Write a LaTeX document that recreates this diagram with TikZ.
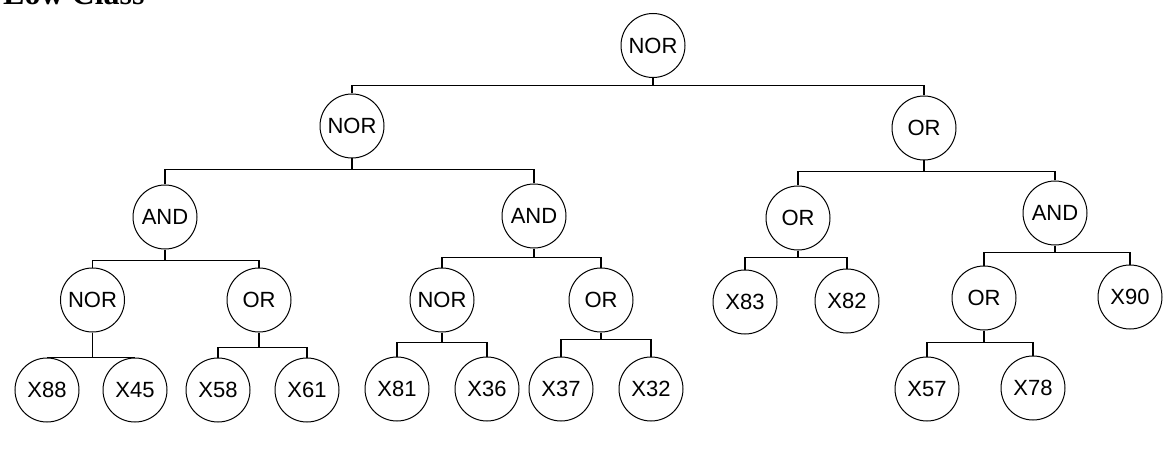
\documentclass[tikz,border=0pt]{standalone}
\usepackage{fontspec}
\setmainfont{Liberation Sans}
\newfontfamily\titlefont{Liberation Serif}
\begin{document}
\begin{tikzpicture}[x=1pt,y=1pt,
  gate/.style={draw, circle, minimum size=64pt, inner sep=0pt, line width=1pt,
    font=\fontsize{22}{26}\selectfont},
  wire/.style={line width=1.3pt}]
\useasboundingbox (0,0) rectangle (1168,448);
\clip (0,0) rectangle (1168,448);
\node[anchor=base west, inner sep=0pt, font=\titlefont\bfseries\fontsize{32}{38}\selectfont] (title) at (3,443) {Low Class};

\node[gate] (r0) at (653,402.5) {NOR};

\node[gate] (n1) at (352,322) {NOR};
\node[gate] (o1) at (924,320) {OR};

\node[gate] (a1) at (165,231) {AND};
\node[gate] (a2) at (534,232) {AND};
\node[gate] (o2) at (798,230) {OR};
\node[gate] (a3) at (1055,235) {AND};

\node[gate] (n2) at (92.5,148) {NOR};
\node[gate] (o3) at (259,148) {OR};
\node[gate] (n3) at (442,148) {NOR};
\node[gate] (o4) at (601,148) {OR};
\node[gate] (x83) at (745,146) {X83};
\node[gate] (x82) at (847,147) {X82};
\node[gate] (o5) at (984,150) {OR};
\node[gate] (x90) at (1130,151) {X90};

\node[gate] (x88) at (47,58) {X88};
\node[gate] (x45) at (135,58) {X45};
\node[gate] (x58) at (218,58) {X58};
\node[gate] (x61) at (307,58) {X61};
\node[gate] (x81) at (397,59) {X81};
\node[gate] (x36) at (487,59) {X36};
\node[gate] (x37) at (561,59) {X37};
\node[gate] (x32) at (651,59) {X32};
\node[gate] (x57) at (927,59) {X57};
\node[gate] (x78) at (1033,60) {X78};

\draw[wire] (r0.south) -- ++(0,-7.5) coordinate (r0b);
\draw[wire] (n1.south) -- ++(0,-11) coordinate (n1b);
\draw[wire] (o1.south) -- ++(0,-11) coordinate (o1b);
\draw[wire] (a1.south) -- ++(0,-11) coordinate (a1b);
\draw[wire] (a2.south) -- ++(0,-9) coordinate (a2b);
\draw[wire] (o2.south) -- ++(0,-7) coordinate (o2b);
\draw[wire] (a3.south) -- ++(0,-7) coordinate (a3b);
\draw[wire] (n2.south) -- ++(0,-25) coordinate (n2b);
\draw[wire] (o3.south) -- ++(0,-15) coordinate (o3b);
\draw[wire] (n3.south) -- ++(0,-10) coordinate (n3b);
\draw[wire] (o4.south) -- ++(0,-7) coordinate (o4b);
\draw[wire] (o5.south) -- ++(0,-12) coordinate (o5b);

\foreach \p/\c in {r0b/n1, r0b/o1, n1b/a1, n1b/a2, o1b/o2, o1b/a3,
    a1b/n2, a1b/o3, a2b/n3, a2b/o4, o2b/x83, o2b/x82, a3b/o5, a3b/x90,
    n2b/x88, n2b/x45, o3b/x58, o3b/x61, n3b/x81, n3b/x36,
    o4b/x37, o4b/x32, o5b/x57, o5b/x78}
  \draw[wire] (\p) -| (\c.north);
\end{tikzpicture}
\end{document}
